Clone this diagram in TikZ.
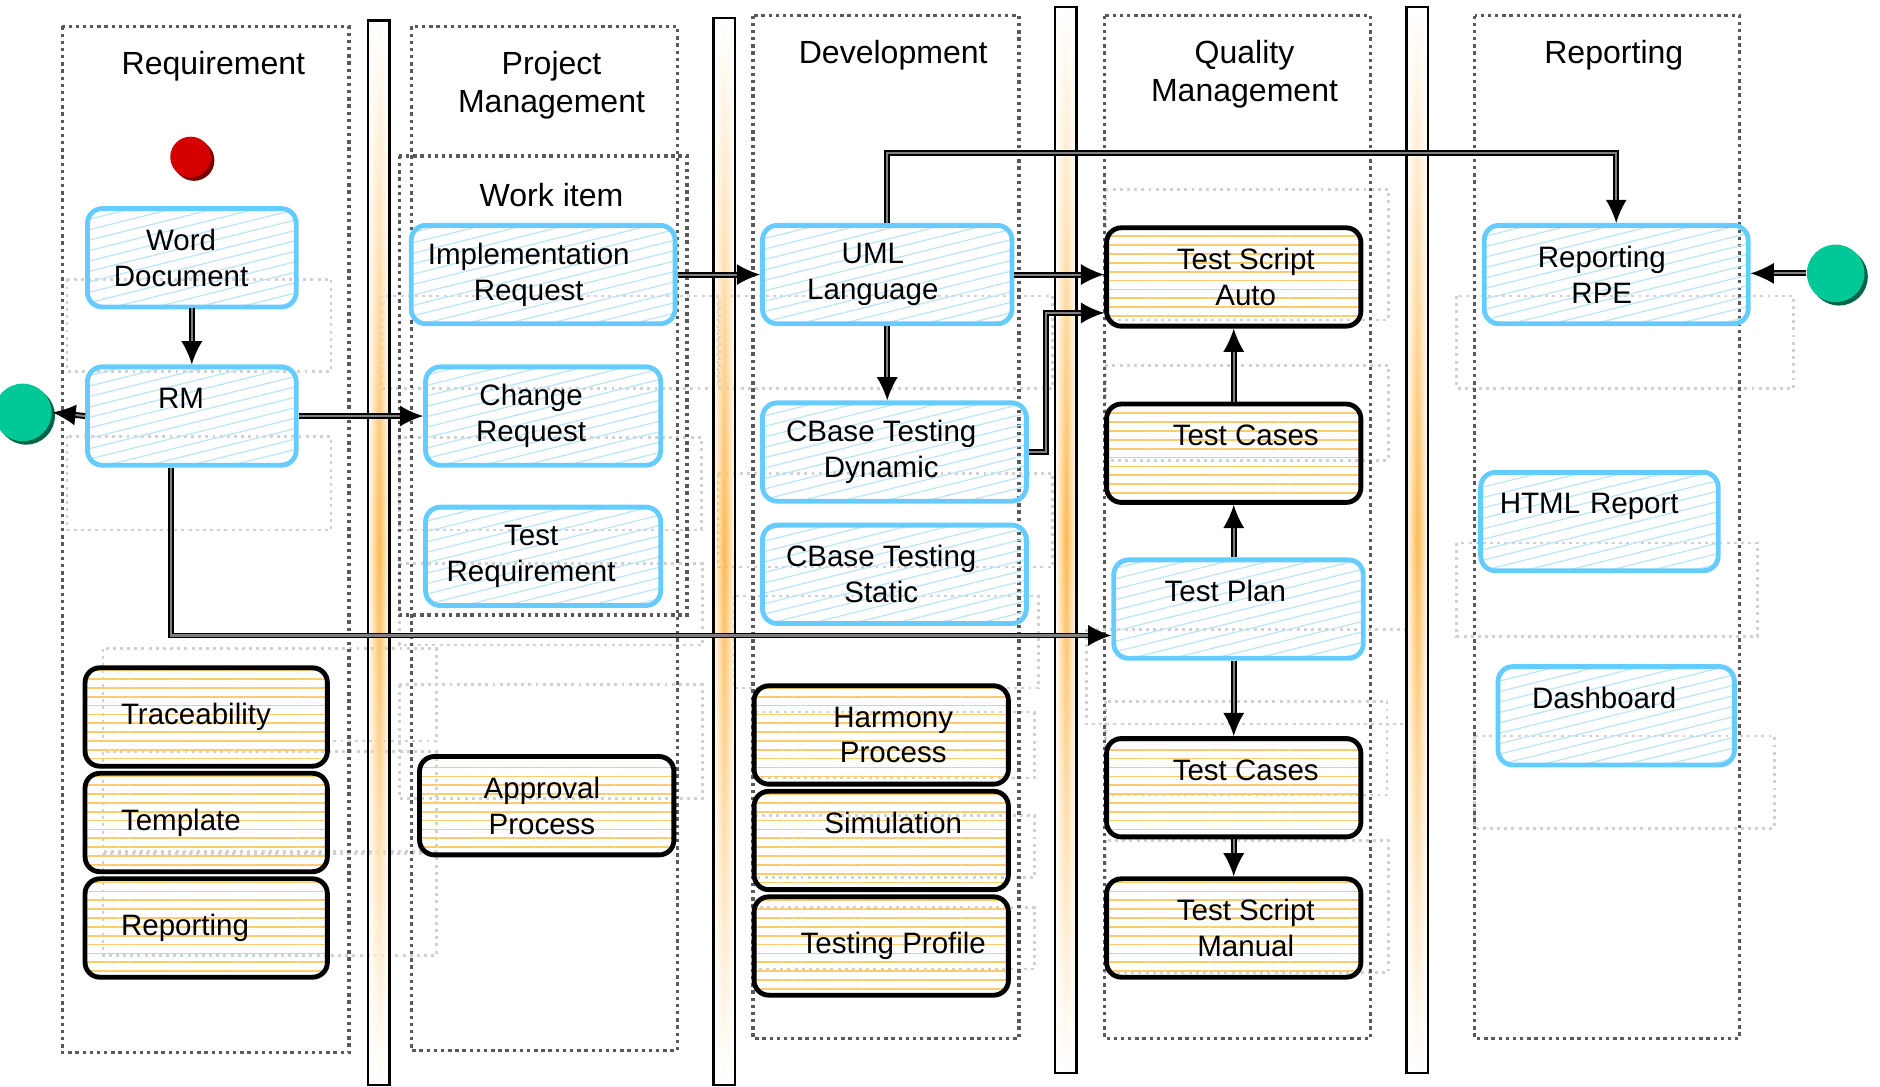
\documentclass[tikz,border=0pt]{standalone}
\usepackage{fontspec}
\setmainfont{Liberation Sans}
\usetikzlibrary{arrows.meta,patterns.meta,shadows,fadings}
\definecolor{actblue}{HTML}{66CCFF}
\definecolor{hatchblue}{HTML}{BDE5FA}
\definecolor{hatchorange}{HTML}{FBCB6E}
\definecolor{barorange}{HTML}{FFB84D}
\definecolor{startred}{HTML}{D40000}
\definecolor{endgreen}{HTML}{00C896}
\tikzfading[name=barfade, left color=transparent!100, right color=transparent!100, middle color=transparent!0]
\begin{document}
\begin{tikzpicture}[x=0.01cm, y=-0.01cm,
    lane/.style={draw=black!65, line width=0.8pt, dash pattern=on 0.8pt off 0.9pt},
    ghost/.style={draw=black!18, line width=0.6pt, dash pattern=on 0.7pt off 1pt},
    lanetitle/.style={font=\fontsize{7.6}{9.1}\selectfont, align=center},
    bluebox/.style={rectangle, rounded corners=3.5pt, draw=actblue, line width=1.15pt,
        pattern={Lines[angle=14, distance=2.4pt, line width=0.3pt]}, pattern color=hatchblue,
        minimum width=#1, minimum height=0.82cm, inner sep=0pt, align=center,
        font=\fontsize{7}{8.5}\selectfont},
    orangebox/.style={rectangle, rounded corners=3.5pt, draw=black, line width=1.15pt,
        pattern={Lines[angle=0, distance=2.1pt, line width=0.4pt]}, pattern color=hatchorange,
        minimum width=#1, minimum height=0.82cm, inner sep=0pt, align=center,
        font=\fontsize{7}{8.5}\selectfont},
    startdot/.style={circle, fill=startred, minimum size=0.34cm, inner sep=0pt,
        general shadow={fill=startred!55!black, shadow xshift=0.8pt, shadow yshift=-0.8pt}},
    enddot/.style={circle, fill=endgreen, minimum size=0.48cm, inner sep=0pt,
        general shadow={fill=endgreen!50!black, shadow xshift=0.8pt, shadow yshift=-0.8pt}},
    flow/.style={draw=black, line width=0.45pt, double=black!50, double distance=0.5pt,
        -{Latex[length=5.5pt, width=5pt]}}]
    \useasboundingbox (0,0) rectangle (1568,906);
    \foreach \ga/\gb/\gc/\gd in {56/233/276/310, 56/364/276/442, 86/541/364/618, 86/627/364/710,
        86/712/364/797, 318/247/600/324, 333/365/585/442, 333/470/586/538, 333/571/586/666,
        599/247/878/324, 599/395/878/473, 612/497/866/574, 630/594/863/649, 630/680/863/732,
        630/757/863/808, 922/158/1158/267, 922/305/1158/384, 906/525/1173/604, 922/585/1157/663,
        922/701/1158/811, 1215/247/1496/324, 1215/453/1466/531, 1230/614/1480/691}
        \draw[ghost] (\ga,\gb) rectangle (\gc,\gd);
    \foreach \la/\lb/\lc/\ld in {52/22/291/878, 343/22/565/876, 628/13/850/866, 921/13/1143/866, 1230/13/1451/866}
        \draw[lane] (\la,\lb) rectangle (\lc,\ld);
    \draw[lane] (333,130) rectangle (573,513);
    \foreach \bx/\bt/\bb in {307/17/905, 595/15/905, 880/6/895, 1173/6/895} {
        \shade[top color=white, bottom color=white, middle color=barorange, path fading=barfade] (\bx,\bt) rectangle ({\bx+18},\bb);
        \draw[line width=0.6pt] (\bx,\bt) rectangle ({\bx+18},\bb);
    }
    \node[lanetitle] (treq) at (178,55) {Requirement};
    \node[lanetitle] (tpm) at (460,71) {Project\\Management};
    \node[lanetitle] (tdev) at (745,46) {Development};
    \node[lanetitle] (tqm) at (1038,62) {Quality\\Management};
    \node[lanetitle] (trep) at (1346,46) {Reporting};
    \node[lanetitle] (twork) at (460,163) {Work item};
    \node[startdot] (start) at (159,131) {};
    \node[enddot] (endl) at (19,344) {};
    \node[enddot] (endr) at (1531,228) {};
    \node[bluebox=1.74cm] (word) at (160,215) {Word\hspace*{0.18cm}\\Document\hspace*{0.18cm}};
    \node[bluebox=1.74cm] (rm) at (160,347) {RM\hspace*{0.18cm}\\~};
    \node[bluebox=2.2cm] (impl) at (453,229) {Implementation\hspace*{0.24cm}\\Request\hspace*{0.24cm}};
    \node[bluebox=1.96cm] (chg) at (453,347) {Change\hspace*{0.2cm}\\Request\hspace*{0.2cm}};
    \node[bluebox=1.96cm] (treqn) at (453,464) {Test\hspace*{0.2cm}\\Requirement\hspace*{0.2cm}};
    \node[bluebox=2.08cm] (uml) at (740,229) {UML\hspace*{0.24cm}\\Language\hspace*{0.24cm}};
    \node[bluebox=2.2cm] (dyn) at (746,377) {CBase Testing\hspace*{0.22cm}\\Dynamic\hspace*{0.22cm}};
    \node[bluebox=2.2cm] (stat) at (746,479) {CBase Testing\hspace*{0.22cm}\\Static\hspace*{0.22cm}};
    \node[bluebox=2.08cm] (plan) at (1033,508) {Test Plan\hspace*{0.22cm}\\~};
    \node[bluebox=2.2cm] (rpe) at (1348,229) {Reporting\hspace*{0.24cm}\\RPE\hspace*{0.24cm}};
    \node[bluebox=1.98cm, align=left, text width=1.66cm] (html) at (1334,435) {HTML Report\\~};
    \node[bluebox=1.97cm] (dash) at (1348,597) {Dashboard\hspace*{0.2cm}\\~};
    \node[orangebox=2.02cm, align=left, text width=1.42cm] (trace) at (172,598) {Traceability};
    \node[orangebox=2.02cm, align=left, text width=1.42cm] (tmpl) at (172,686) {Template};
    \node[orangebox=2.02cm, align=left, text width=1.42cm] (repo) at (172,774) {Reporting};
    \node[orangebox=2.12cm] (appr) at (456,672) {Approval\hspace*{0.08cm}\\Process\hspace*{0.08cm}};
    \node[orangebox=2.12cm] (harm) at (735,613) {\hspace*{0.2cm}Harmony\\\hspace*{0.2cm}Process};
    \node[orangebox=2.12cm] (sim) at (735,701) {\hspace*{0.2cm}Simulation\\~};
    \node[orangebox=2.12cm] (prof) at (735,789) {\hspace*{0.2cm}Testing Profile};
    \node[orangebox=2.12cm] (tsa) at (1029,231) {\hspace*{0.2cm}Test Script\\\hspace*{0.2cm}Auto};
    \node[orangebox=2.12cm] (tc1) at (1029,378) {\hspace*{0.2cm}Test Cases\\~};
    \node[orangebox=2.12cm] (tc2) at (1029,657) {\hspace*{0.2cm}Test Cases\\~};
    \node[orangebox=2.12cm] (tsm) at (1029,774) {\hspace*{0.2cm}Test Script\\\hspace*{0.2cm}Manual};
    \draw[flow] (word.south) -- (rm.north);
    \draw[flow] (rm.west) -- (endl.east);
    \draw[flow] (rm.east) -- (chg.west);
    \draw[flow] ([xshift=-0.17cm]rm.south) |- ([yshift=-0.22cm]plan.west);
    \draw[flow] (impl.east) -- (uml.west);
    \draw[flow] (uml.north) -- ++(0,-58) -| (rpe.north);
    \draw[flow] (uml.east) -- (uml.east -| tsa.west);
    \draw[flow] (uml.south) -- (uml.south |- dyn.north);
    \draw[flow] (dyn.east) -- ++(14,0) |- ([yshift=-0.3cm]tsa.west);
    \draw[flow] (tc1.north) -- (tsa.south);
    \draw[flow] (plan.north -| tc1.south) -- (tc1.south);
    \draw[flow] (plan.south -| tc2.north) -- (tc2.north);
    \draw[flow] (tc2.south) -- (tsm.north);
    \draw[flow] (endr.west) -- (endr.west -| rpe.east);
\end{tikzpicture}
\end{document}
